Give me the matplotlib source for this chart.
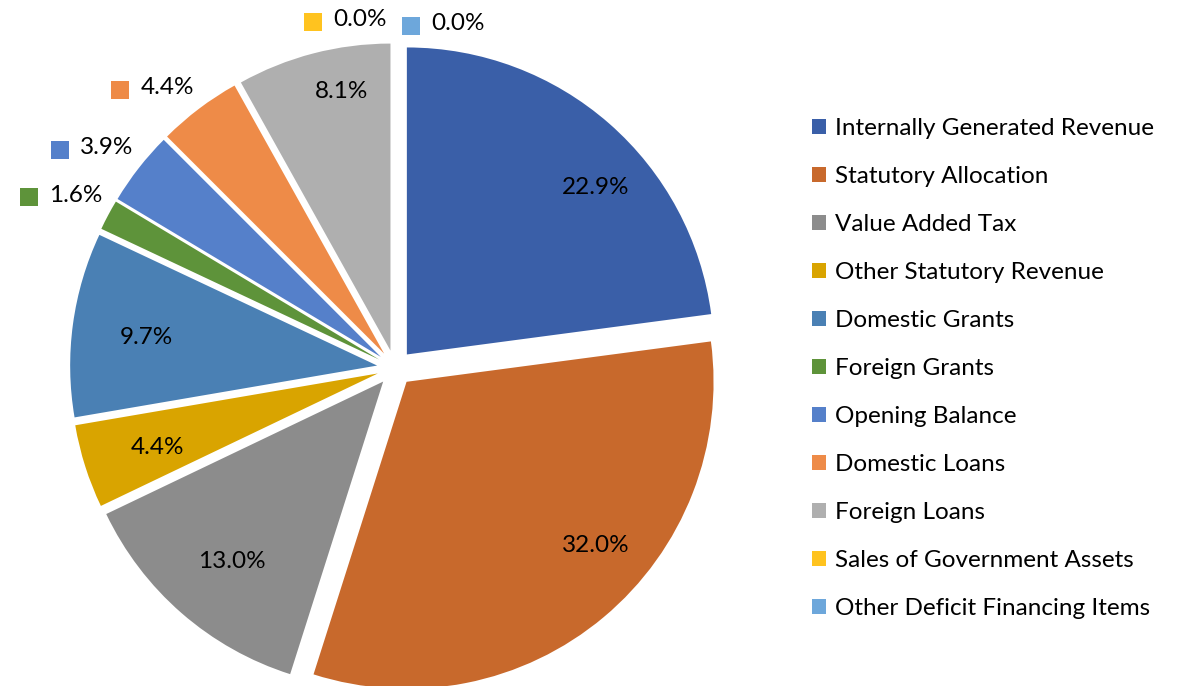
import matplotlib
matplotlib.use("Agg")
import matplotlib.pyplot as plt

categories = ["Internally Generated Revenue", "Statutory Allocation", "Value Added Tax",
              "Other Statutory Revenue", "Domestic Grants", "Foreign Grants",
              "Opening Balance", "Domestic Loans", "Foreign Loans",
              "Sales of Government Assets", "Other Deficit Financing Items"]
shares = [22.9, 32.0, 13.0, 4.4, 9.7, 1.6, 3.9, 4.4, 8.1, 0.0, 0.0]
colors = ["#3A5FA8", "#C8692C", "#8C8C8C", "#D9A400", "#4A80B4", "#5E933A",
          "#5580CA", "#EE8B48", "#AFAFAF", "#FFC31F", "#6DA7DB"]

# label layout in pixel coords (x, y from top); flag: True = outside with key square
label_pos = [(596, 188, False), (596, 545, False), (232, 562, False), (157, 447, False),
             (146, 338, False), (76, 195, True), (107, 148, True), (167, 88, True),
             (342, 92, False), (360, 20, True), (458, 24, True)]

W, H = 1185, 686
plt.rcParams['font.family'] = ['Lato', 'DejaVu Sans']
fig = plt.figure(figsize=(W / 100, H / 100), dpi=100)
ax = fig.add_axes([0, 0, 1, 1])

wedges, _ = ax.pie(shares, colors=colors, startangle=90, counterclock=False,
                   explode=[18] * len(shares), center=(395, H - 368), radius=307,
                   wedgeprops=dict(linewidth=0), frame=True)
ax.set_xlim(0, W)
ax.set_ylim(0, H)
ax.set_aspect('equal')
ax.axis('off')

fs = 17.5
for v, c, (x, y, outside) in zip(shares, colors, label_pos):
    ax.text(x, H - y, f"{v:.1f}%", ha='center', va='center', fontsize=fs, color='black')
    if outside:
        ax.scatter([x - 47], [H - y - 2], marker='s', s=150, color=c, linewidths=0)

leg = ax.legend(wedges, categories, loc='upper left', bbox_to_anchor=(812 / W, 1 - 118 / H),
                frameon=False, fontsize=fs, handlelength=0.58, handleheight=0.58,
                handletextpad=0.35, labelspacing=1.11, borderaxespad=0, borderpad=0)

fig.savefig("out.png", dpi=100)
